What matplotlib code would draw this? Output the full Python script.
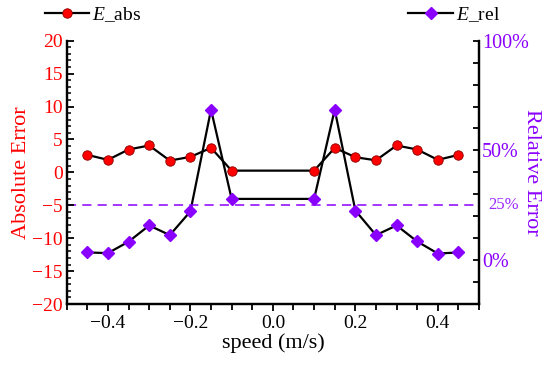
import matplotlib
matplotlib.use("Agg")
import matplotlib.pyplot as plt
from matplotlib.ticker import MultipleLocator, FixedLocator, FuncFormatter
from matplotlib.lines import Line2D
import matplotlib.transforms as mtransforms

plt.rcParams["font.family"] = "Liberation Serif"
plt.rcParams["mathtext.fontset"] = "custom"
plt.rcParams["mathtext.rm"] = "Liberation Serif"
plt.rcParams["mathtext.it"] = "Liberation Serif:italic"
plt.rcParams["axes.unicode_minus"] = True

RED = "#ff0000"
PURPLE = "#8a00ff"

# data
speed = [-0.45, -0.4, -0.35, -0.3, -0.25, -0.2, -0.15, -0.1,
         0.1, 0.15, 0.2, 0.25, 0.3, 0.35, 0.4, 0.45]
e_abs = [2.65, 1.9, 3.47, 4.08, 1.79, 2.35, 3.72, 0.26,
         0.26, 3.72, 2.3, 1.83, 4.08, 3.47, 1.9, 2.65]
e_rel = [3.5, 3.2, 8.4, 15.8, 11.4, 22.2, 68.6, 27.9,
         27.9, 68.6, 22.6, 11.4, 15.8, 8.5, 3.0, 3.5]
threshold_abs = -5
threshold_label = "25%"

fig = plt.figure(figsize=(5.5, 3.75), dpi=100)
ax = fig.add_axes([0.1213, 0.1893, 0.7497, 0.7022])
ax2 = ax.twinx()

# relative error on the right axis
ax2.plot(speed, e_rel, color="black", linewidth=1.6, marker="D",
         markersize=6.3, markerfacecolor=PURPLE, markeredgecolor=PURPLE, zorder=3)
ax2.set_ylim(-20, 100)

# absolute error on the left axis (drawn above)
ax.set_zorder(ax2.get_zorder() + 1)
ax.patch.set_visible(False)
ax.plot(speed, e_abs, color="black", linewidth=1.6, marker="o",
        markersize=6.8, markerfacecolor=RED, markeredgecolor="#8b0000",
        markeredgewidth=0.6, zorder=3)
ax.axhline(threshold_abs, color=PURPLE, linestyle=(0, (6, 4)), linewidth=1.1, zorder=1)

ax.set_xlim(-0.5, 0.5)
ax.set_ylim(-20, 20)
ax.xaxis.set_major_locator(MultipleLocator(0.2))
ax.xaxis.set_minor_locator(MultipleLocator(0.05))
ax.xaxis.set_major_formatter(FuncFormatter(lambda v, p: f"{v:.1f}".replace("-", "\u2212")))
ax.yaxis.set_major_locator(MultipleLocator(5))
ax.yaxis.set_minor_locator(MultipleLocator(1))
ax.yaxis.set_major_formatter(FuncFormatter(lambda v, p: f"{v:.0f}".replace("-", "\u2212")))

ax2.yaxis.set_major_locator(FixedLocator([0, 50, 100]))
ax2.yaxis.set_minor_locator(MultipleLocator(10))
ax2.yaxis.set_major_formatter(FuncFormatter(lambda v, p: f"{v:.0f}%"))

for a in (ax, ax2):
    for s in a.spines.values():
        s.set_linewidth(1.6)
    a.spines["top"].set_visible(False)

ax.tick_params(axis="x", which="major", direction="out", length=5, width=1.3,
               labelsize=14, pad=3)
ax.tick_params(axis="x", which="minor", direction="out", length=4, width=1.3)
ax.tick_params(axis="y", which="major", direction="in", length=5, width=1.3,
               labelsize=14, labelcolor=RED, pad=3)
ax.tick_params(axis="y", which="minor", direction="in", length=3, width=1.1)
ax2.tick_params(axis="y", which="major", direction="in", length=4, width=1.3,
                labelsize=14.5, labelcolor=PURPLE, pad=2)
ax2.tick_params(axis="y", which="minor", direction="in", length=4, width=1.3)

trans = mtransforms.blended_transform_factory(ax2.transAxes, ax2.transData)
ax2.text(1.022, 25, threshold_label, transform=trans, color=PURPLE,
         fontsize=12, va="center", ha="left", alpha=0.85)

ax.set_xlabel("speed (m/s)", fontsize=16, labelpad=1)
ax.set_ylabel("Absolute Error", fontsize=16, color=RED, labelpad=1)
ax2.set_ylabel("Relative Error", fontsize=16, color=PURPLE, rotation=270,
               labelpad=9)

h_abs = Line2D([], [], color="black", linewidth=1.6, marker="o", markersize=6.8,
               markerfacecolor=RED, markeredgecolor="#8b0000", markeredgewidth=0.6)
h_rel = Line2D([], [], color="black", linewidth=1.6, marker="D", markersize=6.3,
               markerfacecolor=PURPLE, markeredgecolor=PURPLE)
fig.legend(handles=[h_abs], labels=["$E$_abs"], loc="center left",
           bbox_to_anchor=(0.067, 0.962), frameon=False, fontsize=14,
           handlelength=2.3, handletextpad=0.15, borderaxespad=0)
fig.legend(handles=[h_rel], labels=["$E$_rel"], loc="center left",
           bbox_to_anchor=(0.728, 0.962), frameon=False, fontsize=14,
           handlelength=2.3, handletextpad=0.15, borderaxespad=0)

fig.savefig("out.png", dpi=100)
